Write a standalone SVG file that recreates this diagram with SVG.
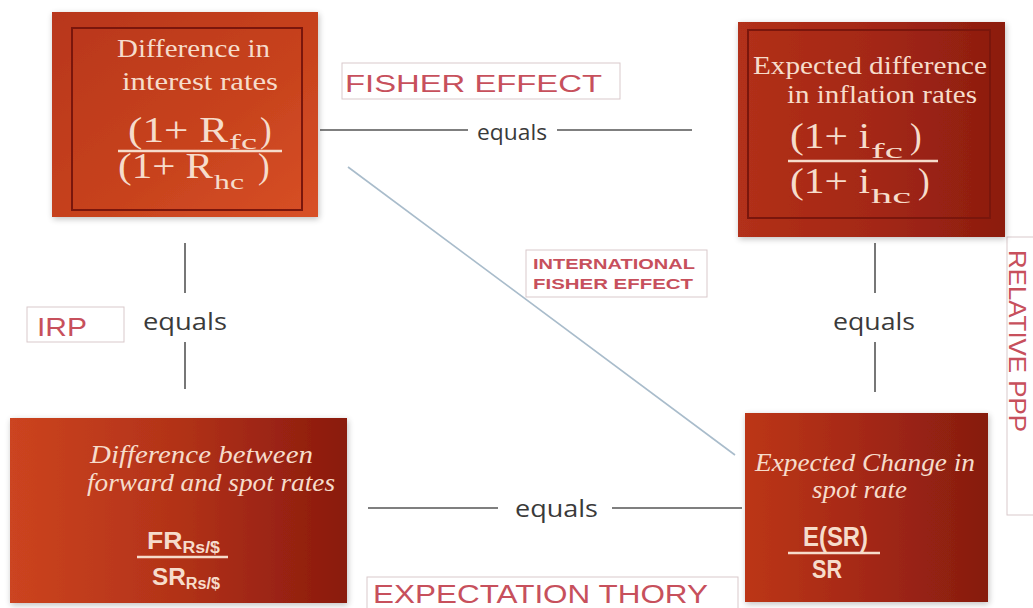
<svg xmlns="http://www.w3.org/2000/svg" width="1033" height="608" viewBox="0 0 1033 608">
<defs>
<linearGradient id="gTL" x1="0" y1="0" x2="1" y2="1">
<stop offset="0" stop-color="#b8361a"/><stop offset="0.6" stop-color="#c8431e"/><stop offset="1" stop-color="#d85026"/>
</linearGradient>
<linearGradient id="gTR" x1="0" y1="0" x2="1" y2="0">
<stop offset="0" stop-color="#b2301a"/><stop offset="0.5" stop-color="#a42814"/><stop offset="1" stop-color="#8c1c10"/>
</linearGradient>
<linearGradient id="gBL" x1="0" y1="0" x2="1" y2="0">
<stop offset="0" stop-color="#cc4420"/><stop offset="0.5" stop-color="#b23218"/><stop offset="1" stop-color="#8a1a0e"/>
</linearGradient>
<linearGradient id="gBR" x1="0" y1="0" x2="1" y2="0">
<stop offset="0" stop-color="#bc3618"/><stop offset="0.5" stop-color="#a42814"/><stop offset="1" stop-color="#861c10"/>
</linearGradient>
<filter id="sh" x="-10%" y="-10%" width="120%" height="120%">
<feGaussianBlur in="SourceAlpha" stdDeviation="3"/><feOffset dx="1" dy="2"/>
<feComponentTransfer><feFuncA type="linear" slope="0.25"/></feComponentTransfer>
<feMerge><feMergeNode/><feMergeNode in="SourceGraphic"/></feMerge>
</filter>
</defs>
<style>
.box{filter:url(#sh)}
.inner{fill:none;stroke:#7a160c;stroke-width:2}
.ser{font-family:"Liberation Serif",serif;fill:#f6dccb}
.it{font-family:"Liberation Serif",serif;font-style:italic;fill:#f6dccb}
.bs{font-family:"Liberation Sans",sans-serif;font-weight:bold;fill:#f6dccb}
.frac{stroke:#f6dccb;stroke-width:2.5}
.eq{font-family:"Open Sans",sans-serif;fill:#3a3a3a}
.conn{stroke:#555;stroke-width:1.6}
.diag{stroke:#a9bccb;stroke-width:1.6}
.lbl{fill:#fff;stroke:#d9c9cb;stroke-width:1}
.lt{font-family:"Liberation Sans",sans-serif;fill:#c7505c}
</style>
<rect width="1033" height="608" fill="#fff"/>

<g id="connectors">
<line class="conn" x1="320" y1="130" x2="468" y2="130"/>
<line class="conn" x1="557" y1="130" x2="692" y2="130"/>
<text class="eq" x="477" y="140" font-size="21" textLength="70" lengthAdjust="spacingAndGlyphs">equals</text>
<line class="conn" x1="185" y1="243" x2="185" y2="293"/>
<line class="conn" x1="185" y1="342" x2="185" y2="389"/>
<text class="eq" x="143" y="330" font-size="24" textLength="84" lengthAdjust="spacingAndGlyphs">equals</text>
<line class="conn" x1="875" y1="243" x2="875" y2="293"/>
<line class="conn" x1="875" y1="342" x2="875" y2="392"/>
<text class="eq" x="833" y="330" font-size="24" textLength="82" lengthAdjust="spacingAndGlyphs">equals</text>
<line class="conn" x1="368" y1="508" x2="498" y2="508"/>
<line class="conn" x1="612" y1="508" x2="742" y2="508"/>
<text class="eq" x="515" y="517" font-size="24" textLength="83" lengthAdjust="spacingAndGlyphs">equals</text>
<line class="diag" x1="348" y1="167" x2="735" y2="455"/>
</g>

<g id="label-fisher">
<rect class="lbl" x="342" y="63" width="278" height="36"/>
<text class="lt" x="345" y="92" font-size="24" textLength="257" lengthAdjust="spacingAndGlyphs">FISHER EFFECT</text>
</g>
<g id="label-irp">
<rect class="lbl" x="27" y="307" width="97" height="35"/>
<text class="lt" x="37" y="336" font-size="25" textLength="50" lengthAdjust="spacingAndGlyphs">IRP</text>
</g>
<g id="label-ife">
<rect class="lbl" x="526" y="250" width="181" height="47"/>
<text class="lt" x="533" y="269" font-size="15" font-weight="bold" textLength="162" lengthAdjust="spacingAndGlyphs">INTERNATIONAL</text>
<text class="lt" x="533" y="289" font-size="15" font-weight="bold" textLength="160" lengthAdjust="spacingAndGlyphs">FISHER EFFECT</text>
</g>
<g id="label-ppp">
<rect class="lbl" x="1007" y="237" width="30" height="278"/>
<text class="lt" transform="translate(1009,250) rotate(90)" font-size="24" textLength="182" lengthAdjust="spacingAndGlyphs">RELATIVE PPP</text>
</g>
<g id="label-exp">
<rect class="lbl" x="367" y="577" width="371" height="40"/>
<text class="lt" x="373" y="603" font-size="25" textLength="335" lengthAdjust="spacingAndGlyphs">EXPECTATION THORY</text>
</g>

<g id="node-interest">
<rect class="box" x="52" y="12" width="266" height="205" fill="url(#gTL)"/>
<rect class="inner" x="72" y="28" width="230" height="182"/>
<text class="ser" x="117" y="57" font-size="25" textLength="153" lengthAdjust="spacingAndGlyphs">Difference in</text>
<text class="ser" x="122" y="90" font-size="25" textLength="156" lengthAdjust="spacingAndGlyphs">interest rates</text>
<text class="ser" x="128" y="142" font-size="35" textLength="100" lengthAdjust="spacingAndGlyphs">(1+ R</text>
<text class="ser" x="229" y="149" font-size="21" textLength="28" lengthAdjust="spacingAndGlyphs">fc</text>
<text class="ser" x="260" y="142" font-size="35">)</text>
<line class="frac" x1="118" y1="151" x2="282" y2="151"/>
<text class="ser" x="118" y="178" font-size="35" textLength="95" lengthAdjust="spacingAndGlyphs">(1+  R</text>
<text class="ser" x="214" y="189" font-size="21" textLength="30" lengthAdjust="spacingAndGlyphs">hc</text>
<text class="ser" x="258" y="178" font-size="35">)</text>
</g>

<g id="node-inflation">
<rect class="box" x="738" y="22" width="267" height="215" fill="url(#gTR)"/>
<rect class="inner" x="748" y="30" width="242" height="188"/>
<text class="ser" x="753" y="74" font-size="25" textLength="234" lengthAdjust="spacingAndGlyphs">Expected difference</text>
<text class="ser" x="787" y="103" font-size="25" textLength="190" lengthAdjust="spacingAndGlyphs">in inflation rates</text>
<text class="ser" x="790" y="148" font-size="35" textLength="80" lengthAdjust="spacingAndGlyphs">(1+  i</text>
<text class="ser" x="871" y="158" font-size="21" textLength="32" lengthAdjust="spacingAndGlyphs">fc</text>
<text class="ser" x="910" y="148" font-size="35">)</text>
<line class="frac" x1="788" y1="161" x2="938" y2="161"/>
<text class="ser" x="790" y="193" font-size="35" textLength="80" lengthAdjust="spacingAndGlyphs">(1+  i</text>
<text class="ser" x="871" y="203" font-size="21" textLength="40" lengthAdjust="spacingAndGlyphs">hc</text>
<text class="ser" x="918" y="193" font-size="35">)</text>
</g>

<g id="node-forward">
<rect class="box" x="10" y="418" width="337" height="185" fill="url(#gBL)"/>
<text class="it" x="90" y="463" font-size="25" textLength="223" lengthAdjust="spacingAndGlyphs">Difference between</text>
<text class="it" x="87" y="491" font-size="25" textLength="248" lengthAdjust="spacingAndGlyphs">forward and spot rates</text>
<text class="bs" x="147" y="549" font-size="24" textLength="73" lengthAdjust="spacingAndGlyphs">FR<tspan font-size="16" dy="4">Rs/$</tspan></text>
<line class="frac" x1="137" y1="557" x2="228" y2="557"/>
<text class="bs" x="152" y="585" font-size="24" textLength="68" lengthAdjust="spacingAndGlyphs">SR<tspan font-size="16" dy="4">Rs/$</tspan></text>
</g>

<g id="node-spot">
<rect class="box" x="745" y="413" width="243" height="189" fill="url(#gBR)"/>
<text class="it" x="755" y="471" font-size="25" textLength="220" lengthAdjust="spacingAndGlyphs">Expected Change in</text>
<text class="it" x="812" y="498" font-size="25" textLength="95" lengthAdjust="spacingAndGlyphs">spot rate</text>
<text class="bs" x="803" y="546" font-size="27" textLength="65" lengthAdjust="spacingAndGlyphs">E(SR)</text>
<line class="frac" x1="788" y1="553" x2="880" y2="553"/>
<text class="bs" x="812" y="578" font-size="25" textLength="30" lengthAdjust="spacingAndGlyphs">SR</text>
</g>
</svg>
